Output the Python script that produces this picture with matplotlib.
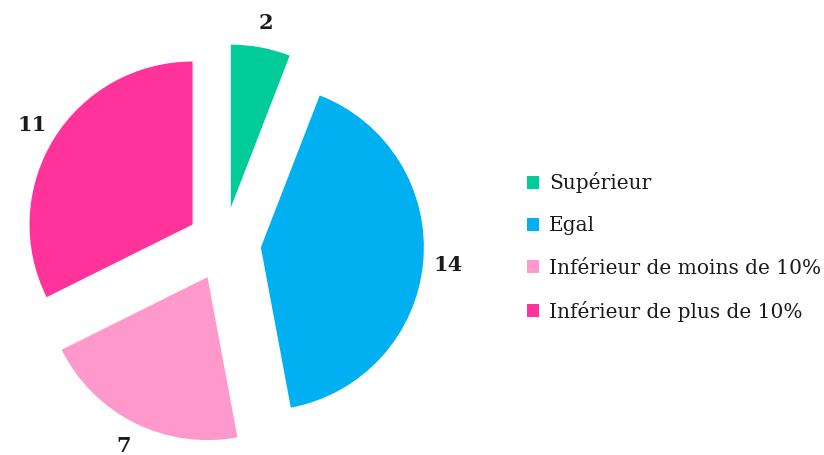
import matplotlib
matplotlib.use("Agg")
import matplotlib.pyplot as plt

categories = ["Supérieur", "Egal", "Inférieur de moins de 10%", "Inférieur de plus de 10%"]
counts = [2, 14, 7, 11]
colors = ["#00CC99", "#00B0F0", "#FF99CC", "#FF3399"]

W, H = 824, 455
fig = plt.figure(figsize=(W / 100, H / 100), dpi=100)
ax = fig.add_axes([0, 0, 1, 1])

# everything in pixel units: radius and explode offset are absolute
radius = 163
center = (224, H - 244)
wedges, texts = ax.pie(
    counts,
    colors=colors,
    labels=[str(c) for c in counts],
    startangle=90,
    counterclock=False,
    radius=radius,
    center=center,
    explode=[37] * len(counts),
    labeldistance=1.155,
    textprops={"ha": "center", "va": "center", "fontsize": 15,
                "fontweight": "bold", "family": "DejaVu Serif", "color": "#1a1a1a"},
)
ax.set_xlim(0, W)
ax.set_ylim(0, H)
ax.set_aspect("equal")
ax.axis("off")

leg = ax.legend(
    wedges, categories,
    loc="center left", bbox_to_anchor=(527 / W, 1 - 247 / H),
    frameon=False, handlelength=0.6, handleheight=0.6, handletextpad=0.5,
    labelspacing=1.15, borderaxespad=0, borderpad=0,
    prop={"family": "DejaVu Serif", "size": 14.5},
)
for t in leg.get_texts():
    t.set_color("#1a1a1a")

fig.savefig("out.png", dpi=100)
